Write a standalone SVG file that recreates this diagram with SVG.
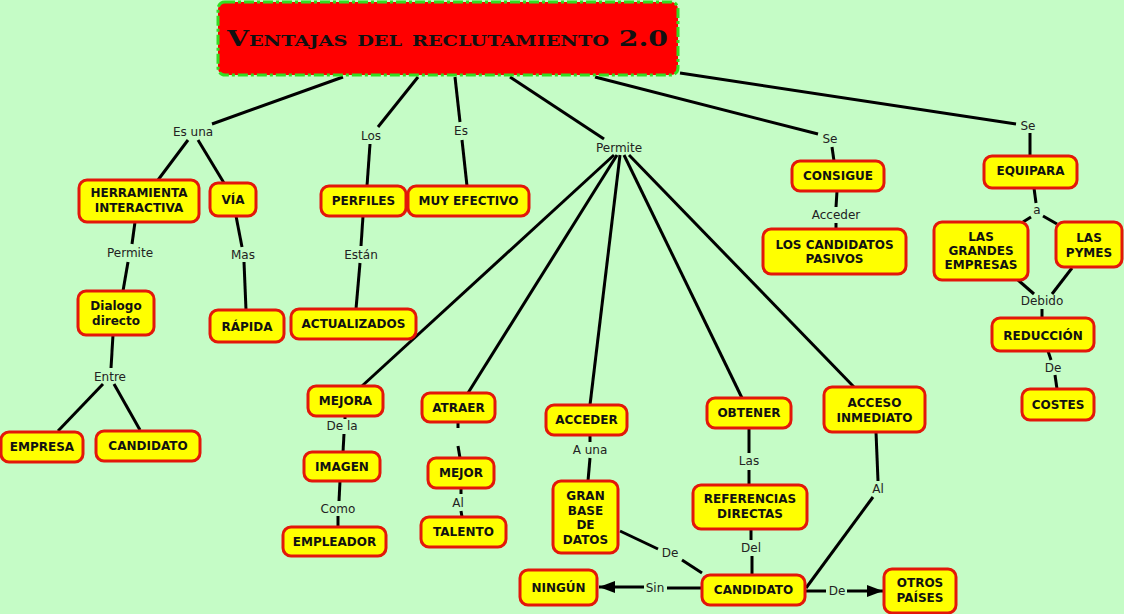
<svg xmlns="http://www.w3.org/2000/svg" width="1124" height="614" viewBox="0 0 1124 614">
<style>
.n rect{fill:#ffff00;stroke:#e3170a;stroke-width:3}
.n text{font-family:"DejaVu Sans",Verdana,sans-serif;font-weight:bold;font-size:12px;fill:#111;text-anchor:middle}
.l{font-family:"DejaVu Sans",Verdana,sans-serif;font-size:12px;fill:#222;text-anchor:middle}
#connectors line,#connectors polyline{stroke:#000;stroke-width:3;fill:none}
</style>
<defs>
<marker id="ah" viewBox="0 0 16 12" refX="16" refY="6" markerWidth="16" markerHeight="12" markerUnits="userSpaceOnUse" orient="auto">
<path d="M0,0 L16,6 L0,12 Z" fill="#000"/>
</marker>
</defs>
<rect x="0" y="0" width="1124" height="614" fill="#c5fcc6"/>

<g id="connectors">
<line x1="343" y1="77" x2="212" y2="124"/>
<line x1="188" y1="140" x2="158" y2="180"/>
<line x1="198" y1="140" x2="224" y2="183"/>
<line x1="418" y1="77" x2="378" y2="127"/>
<line x1="370" y1="144" x2="367" y2="186"/>
<line x1="455" y1="77" x2="460" y2="122"/>
<line x1="462" y1="140" x2="467" y2="186"/>
<line x1="510" y1="77" x2="604" y2="139"/>
<line x1="614" y1="155" x2="362" y2="386"/>
<line x1="617" y1="155" x2="468" y2="393"/>
<line x1="620" y1="155" x2="590" y2="405"/>
<line x1="624" y1="155" x2="742" y2="398"/>
<line x1="629" y1="155" x2="854" y2="387"/>
<line x1="595" y1="77" x2="818" y2="134"/>
<line x1="832" y1="147" x2="834" y2="161"/>
<line x1="837" y1="191" x2="836" y2="207"/>
<line x1="836" y1="223" x2="836" y2="229"/>
<line x1="680" y1="73" x2="1016" y2="124"/>
<line x1="1030" y1="133" x2="1030" y2="156"/>
<line x1="1034" y1="188" x2="1036" y2="203"/>
<line x1="1031" y1="217" x2="1023" y2="222"/>
<line x1="1043" y1="216" x2="1057" y2="224"/>
<line x1="1018" y1="280" x2="1034" y2="294"/>
<line x1="1072" y1="268" x2="1052" y2="294"/>
<line x1="1042" y1="309" x2="1042" y2="318"/>
<line x1="1048" y1="351" x2="1051" y2="360"/>
<line x1="1055" y1="375" x2="1057" y2="389"/>
<line x1="135" y1="222" x2="132" y2="244"/>
<line x1="128" y1="262" x2="123" y2="291"/>
<line x1="236" y1="216" x2="242" y2="247"/>
<line x1="244" y1="262" x2="246" y2="310"/>
<line x1="113" y1="335" x2="111" y2="368"/>
<line x1="103" y1="384" x2="58" y2="431"/>
<line x1="114" y1="384" x2="140" y2="430"/>
<line x1="363" y1="216" x2="361" y2="246"/>
<line x1="360" y1="263" x2="356" y2="309"/>
<line x1="345" y1="416" x2="345" y2="419"/>
<line x1="344" y1="434" x2="343" y2="452"/>
<line x1="340" y1="481" x2="339" y2="501"/>
<line x1="338" y1="516" x2="338" y2="527"/>
<line x1="458" y1="422" x2="458" y2="428"/>
<line x1="458" y1="446" x2="460" y2="458"/>
<line x1="461" y1="488" x2="461" y2="494"/>
<line x1="461" y1="511" x2="462" y2="517"/>
<line x1="590" y1="435" x2="590" y2="442"/>
<line x1="590" y1="458" x2="588" y2="481"/>
<line x1="620" y1="531" x2="658" y2="549"/>
<line x1="682" y1="560" x2="702" y2="573"/>
<line x1="749" y1="428" x2="749" y2="453"/>
<line x1="749" y1="470" x2="749" y2="485"/>
<line x1="751" y1="529" x2="751" y2="540"/>
<line x1="752" y1="556" x2="752" y2="575"/>
<line x1="876" y1="432" x2="878" y2="481"/>
<line x1="873" y1="497" x2="806" y2="588"/>
<line x1="702" y1="588" x2="667" y2="588"/>
<line x1="644" y1="587" x2="599" y2="587" marker-end="url(#ah)"/>
<line x1="805" y1="591" x2="826" y2="591"/>
<line x1="847" y1="591" x2="883" y2="591" marker-end="url(#ah)"/>
</g>

<g id="labels">
<text class="l" x="193" y="136">Es una</text>
<text class="l" x="130" y="257">Permite</text>
<text class="l" x="243" y="259">Mas</text>
<text class="l" x="110" y="381">Entre</text>
<text class="l" x="371" y="140">Los</text>
<text class="l" x="461" y="135">Es</text>
<text class="l" x="361" y="259">Están</text>
<text class="l" x="619" y="152">Permite</text>
<text class="l" x="342" y="430">De la</text>
<text class="l" x="338" y="513">Como</text>
<text class="l" x="590" y="454">A una</text>
<text class="l" x="458" y="507">Al</text>
<text class="l" x="830" y="143">Se</text>
<text class="l" x="836" y="219">Acceder</text>
<text class="l" x="1028" y="130">Se</text>
<text class="l" x="1037" y="214">a</text>
<text class="l" x="1042" y="305">Debido</text>
<text class="l" x="1053" y="372">De</text>
<text class="l" x="749" y="465">Las</text>
<text class="l" x="878" y="493">Al</text>
<text class="l" x="751" y="552">Del</text>
<text class="l" x="670" y="557">De</text>
<text class="l" x="655" y="592">Sin</text>
<text class="l" x="837" y="595">De</text>
</g>

<g id="title">
<rect x="218" y="2" width="460" height="73" rx="7" fill="#ff0000" stroke="#33dd22" stroke-width="3" stroke-dasharray="10 3 3 3"/>
<text x="227" y="46" font-family="'DejaVu Serif',serif" font-weight="bold" font-size="22" font-variant="small-caps" textLength="441" lengthAdjust="spacingAndGlyphs" fill="#111">Ventajas del reclutamiento 2.0</text>
</g>

<g id="herramienta" class="n"><rect x="79" y="180" width="120" height="42" rx="8"/><text x="139" y="197">HERRAMIENTA</text><text x="139" y="212">INTERACTIVA</text></g>
<g id="via" class="n"><rect x="210" y="183" width="46" height="33" rx="8"/><text x="233" y="204">VÍA</text></g>
<g id="dialogo" class="n"><rect x="78" y="291" width="76" height="44" rx="8"/><text x="116" y="310">Dialogo</text><text x="116" y="325">directo</text></g>
<g id="rapida" class="n"><rect x="210" y="310" width="74" height="32" rx="8"/><text x="247" y="331">RÁPIDA</text></g>
<g id="empresa" class="n"><rect x="1" y="432" width="82" height="30" rx="8"/><text x="42" y="451">EMPRESA</text></g>
<g id="candidato1" class="n"><rect x="96" y="431" width="104" height="30" rx="8"/><text x="148" y="450">CANDIDATO</text></g>
<g id="perfiles" class="n"><rect x="321" y="186" width="85" height="30" rx="8"/><text x="363.5" y="205">PERFILES</text></g>
<g id="muyefectivo" class="n"><rect x="408" y="186" width="121" height="30" rx="8"/><text x="468.5" y="205">MUY EFECTIVO</text></g>
<g id="actualizados" class="n"><rect x="291" y="309" width="125" height="30" rx="8"/><text x="353.5" y="328">ACTUALIZADOS</text></g>
<g id="mejora" class="n"><rect x="308" y="386" width="75" height="30" rx="8"/><text x="345.5" y="405">MEJORA</text></g>
<g id="imagen" class="n"><rect x="304" y="452" width="76" height="29" rx="8"/><text x="342" y="471">IMAGEN</text></g>
<g id="empleador" class="n"><rect x="283" y="527" width="103" height="29" rx="8"/><text x="334.5" y="546">EMPLEADOR</text></g>
<g id="atraer" class="n"><rect x="422" y="393" width="73" height="29" rx="8"/><text x="458.5" y="412">ATRAER</text></g>
<g id="mejor" class="n"><rect x="428" y="458" width="66" height="30" rx="8"/><text x="461" y="477">MEJOR</text></g>
<g id="talento" class="n"><rect x="421" y="517" width="85" height="30" rx="8"/><text x="463.5" y="536">TALENTO</text></g>
<g id="acceder" class="n"><rect x="546" y="405" width="81" height="30" rx="8"/><text x="586.5" y="424">ACCEDER</text></g>
<g id="granbase" class="n"><rect x="553" y="481" width="65" height="72" rx="8"/><text x="585.5" y="500">GRAN</text><text x="585.5" y="515">BASE</text><text x="585.5" y="529">DE</text><text x="585.5" y="544">DATOS</text></g>
<g id="referencias" class="n"><rect x="693" y="485" width="114" height="44" rx="8"/><text x="750" y="503">REFERENCIAS</text><text x="750" y="518">DIRECTAS</text></g>
<g id="ningun" class="n"><rect x="520" y="570" width="77" height="35" rx="8"/><text x="558.5" y="592">NINGÚN</text></g>
<g id="candidato2" class="n"><rect x="702" y="575" width="103" height="30" rx="8"/><text x="753.5" y="594">CANDIDATO</text></g>
<g id="otros" class="n"><rect x="884" y="569" width="72" height="44" rx="8"/><text x="920" y="587">OTROS</text><text x="920" y="602">PAÍSES</text></g>
<g id="obtener" class="n"><rect x="707" y="398" width="84" height="30" rx="8"/><text x="749" y="417">OBTENER</text></g>
<g id="acceso" class="n"><rect x="824" y="387" width="101" height="45" rx="8"/><text x="874.5" y="407">ACCESO</text><text x="874.5" y="422">INMEDIATO</text></g>
<g id="reduccion" class="n"><rect x="992" y="318" width="102" height="33" rx="8"/><text x="1043" y="340">REDUCCIÓN</text></g>
<g id="costes" class="n"><rect x="1022" y="389" width="72" height="31" rx="8"/><text x="1058" y="409">COSTES</text></g>
<g id="consigue" class="n"><rect x="792" y="161" width="92" height="30" rx="8"/><text x="838" y="180">CONSIGUE</text></g>
<g id="pasivos" class="n"><rect x="763" y="229" width="143" height="45" rx="8"/><text x="834.5" y="249">LOS CANDIDATOS</text><text x="834.5" y="263">PASIVOS</text></g>
<g id="equipara" class="n"><rect x="984" y="156" width="93" height="32" rx="8"/><text x="1030.5" y="175">EQUIPARA</text></g>
<g id="grandes" class="n"><rect x="934" y="222" width="94" height="58" rx="8"/><text x="981" y="241">LAS</text><text x="981" y="255">GRANDES</text><text x="981" y="269">EMPRESAS</text></g>
<g id="pymes" class="n"><rect x="1056" y="222" width="66" height="45" rx="8"/><text x="1089" y="242">LAS</text><text x="1089" y="257">PYMES</text></g>
</svg>
